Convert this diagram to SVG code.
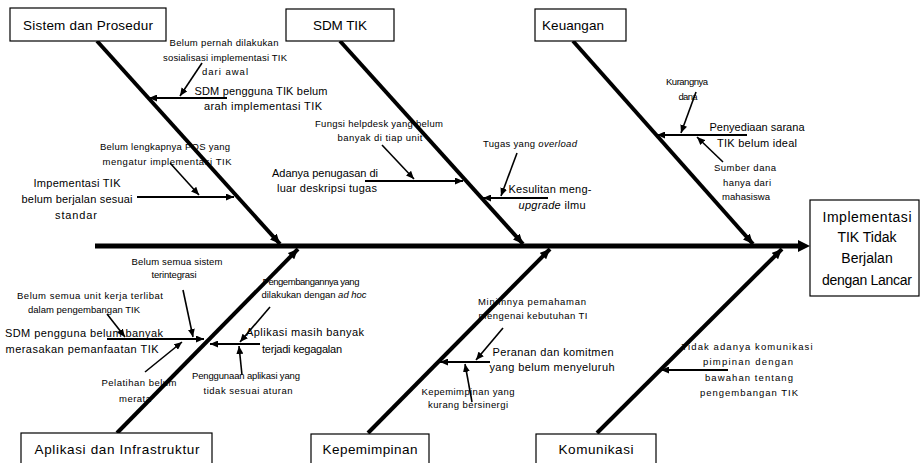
<svg xmlns="http://www.w3.org/2000/svg" width="920" height="463" viewBox="0 0 920 463">
  <defs>
    <marker id="ah" viewBox="0 0 8 7" refX="8" refY="3.5" markerWidth="8" markerHeight="7" markerUnits="userSpaceOnUse" orient="auto">
      <path d="M0,0 L8,3.5 L0,7 z" fill="#000"/>
    </marker>
    <marker id="ahb" viewBox="0 0 10 9" refX="10" refY="4.5" markerWidth="10" markerHeight="9" markerUnits="userSpaceOnUse" orient="auto">
      <path d="M0,0 L10,4.5 L0,9 z" fill="#000"/>
    </marker>
  </defs>
  <style>
    .box { fill: #fff; stroke: #000; stroke-width: 1.2; }
    text { font-family: "Liberation Sans", Arial, sans-serif; fill: #000; text-anchor: middle; }
    .lbl { font-size: 13.5px; }
    .eff { font-size: 14px; }
    .m { font-size: 11px; }
    .s { font-size: 9.5px; }
    .spine { stroke: #000; stroke-width: 5; fill: none; }
    .bone { stroke: #000; stroke-width: 4; fill: none; marker-end: url(#ahb); }
    .sub { stroke: #000; stroke-width: 2; fill: none; marker-end: url(#ah); }
    .cause { stroke: #000; stroke-width: 1.6; fill: none; marker-end: url(#ah); }
    .i { font-style: italic; }
  </style>

  <rect width="920" height="463" fill="#fff"/>

  <!-- connectors: spine, main bones and cause arrows -->
  <g id="connectors">
    <line class="spine" x1="95" y1="246" x2="801" y2="246"/>
    <polygon points="798,240 810,246 798,252" fill="#000"/>

    <line class="bone" x1="97" y1="41" x2="280" y2="244"/>
    <line class="bone" x1="340" y1="41" x2="523" y2="244"/>
    <line class="bone" x1="573" y1="41" x2="753" y2="244"/>
    <line class="bone" x1="117" y1="433" x2="298" y2="249"/>
    <line class="bone" x1="368" y1="433" x2="550" y2="249"/>
    <line class="bone" x1="597" y1="433" x2="782" y2="249"/>

    <!-- Sistem dan Prosedur -->
    <line class="sub" x1="227" y1="98" x2="149" y2="98"/>
    <line class="cause" x1="202" y1="63" x2="180" y2="96"/>
    <line class="sub" x1="137" y1="197" x2="234" y2="197"/>
    <line class="cause" x1="170" y1="163" x2="199" y2="195"/>

    <!-- SDM TIK -->
    <line class="sub" x1="365" y1="181" x2="463" y2="181"/>
    <line class="cause" x1="382" y1="145" x2="414" y2="179"/>
    <line class="sub" x1="548" y1="198" x2="483" y2="198"/>
    <line class="cause" x1="517" y1="153" x2="501" y2="196"/>

    <!-- Keuangan -->
    <line class="sub" x1="747" y1="135" x2="657" y2="135"/>
    <line class="cause" x1="696" y1="92" x2="681" y2="133"/>
    <line class="cause" x1="723" y1="162" x2="697" y2="137"/>

    <!-- Aplikasi dan Infrastruktur -->
    <line class="sub" x1="107" y1="339" x2="204" y2="339"/>
    <line class="cause" x1="107" y1="314" x2="125" y2="337"/>
    <line class="cause" x1="183" y1="290" x2="193" y2="337"/>
    <line class="cause" x1="145" y1="372" x2="182" y2="342"/>
    <line class="sub" x1="260" y1="344" x2="210" y2="344"/>
    <line class="cause" x1="270" y1="307" x2="240" y2="342"/>
    <line class="cause" x1="242" y1="375" x2="239" y2="346"/>

    <!-- Kepemimpinan -->
    <line class="sub" x1="490" y1="362" x2="440" y2="362"/>
    <line class="cause" x1="503" y1="328" x2="476" y2="360"/>
    <line class="cause" x1="472" y1="402" x2="465" y2="364"/>

    <!-- Komunikasi -->
    <line class="sub" x1="728" y1="370" x2="661" y2="370"/>
  </g>

  <!-- effect -->
  <g id="effect">
    <rect class="box" x="810" y="200" width="109" height="96"/>
    <text class="eff" x="867" y="222" textLength="89" lengthAdjust="spacing">Implementasi</text>
    <text class="eff" x="867" y="242">TIK Tidak</text>
    <text class="eff" x="867" y="263">Berjalan</text>
    <text class="eff" x="867" y="285" textLength="90" lengthAdjust="spacing">dengan Lancar</text>
  </g>

  <g id="sistem-prosedur">
    <rect class="box" x="10" y="8" width="156" height="33"/>
    <text class="lbl" x="88" y="30" textLength="130" lengthAdjust="spacing">Sistem dan Prosedur</text>
    <text class="s" x="224" y="46" textLength="109" lengthAdjust="spacing">Belum pernah dilakukan</text>
    <text class="s" x="225" y="61" textLength="124" lengthAdjust="spacing">sosialisasi implementasi TIK</text>
    <text class="s" x="225" y="75" textLength="46" lengthAdjust="spacing">dari awal</text>
    <text class="m" x="261" y="95" textLength="133" lengthAdjust="spacing">SDM pengguna TIK belum</text>
    <text class="m" x="263" y="110" textLength="118" lengthAdjust="spacing">arah implementasi TIK</text>
    <text class="s" x="165" y="150" textLength="130" lengthAdjust="spacing">Belum lengkapnya POS yang</text>
    <text class="s" x="167" y="165" textLength="129" lengthAdjust="spacing">mengatur implementasi TIK</text>
    <text class="m" x="77" y="187" textLength="87" lengthAdjust="spacing">Impementasi TIK</text>
    <text class="m" x="77" y="203" textLength="111" lengthAdjust="spacing">belum berjalan sesuai</text>
    <text class="m" x="76" y="219" textLength="42" lengthAdjust="spacing">standar</text>
  </g>

  <g id="sdm-tik">
    <rect class="box" x="286" y="9" width="108" height="32"/>
    <text class="lbl" x="340" y="30" textLength="54" lengthAdjust="spacing">SDM TIK</text>
    <text class="s" x="379" y="127" textLength="128" lengthAdjust="spacing">Fungsi helpdesk yang belum</text>
    <text class="s" x="380" y="141" textLength="85" lengthAdjust="spacing">banyak di tiap unit</text>
    <text class="m" x="325" y="177" textLength="106" lengthAdjust="spacing">Adanya penugasan di</text>
    <text class="m" x="327" y="192" textLength="100" lengthAdjust="spacing">luar deskripsi tugas</text>
    <text class="s" x="530" y="147" textLength="94" lengthAdjust="spacing">Tugas yang <tspan class="i">overload</tspan></text>
    <text class="m" x="550" y="193" textLength="83" lengthAdjust="spacing">Kesulitan meng-</text>
    <text class="m" x="552" y="209" textLength="67" lengthAdjust="spacing"><tspan class="i">upgrade</tspan> ilmu</text>
  </g>

  <g id="keuangan">
    <rect class="box" x="535" y="9" width="91" height="32"/>
    <text class="lbl" x="573" y="30" textLength="62" lengthAdjust="spacing">Keuangan</text>
    <text class="s" x="687" y="85" textLength="42" lengthAdjust="spacing">Kurangnya</text>
    <text class="s" x="688" y="100" textLength="19" lengthAdjust="spacing">dana</text>
    <text class="m" x="757" y="131" textLength="95" lengthAdjust="spacing">Penyediaan sarana</text>
    <text class="m" x="757" y="147" textLength="80" lengthAdjust="spacing">TIK belum ideal</text>
    <text class="s" x="745" y="171" textLength="62" lengthAdjust="spacing">Sumber dana</text>
    <text class="s" x="747" y="186" textLength="48" lengthAdjust="spacing">hanya dari</text>
    <text class="s" x="746" y="200" textLength="48" lengthAdjust="spacing">mahasiswa</text>
  </g>

  <g id="aplikasi-infrastruktur">
    <rect class="box" x="21" y="433" width="191" height="40"/>
    <text class="lbl" x="117" y="454" textLength="165" lengthAdjust="spacing">Aplikasi dan Infrastruktur</text>
    <text class="s" x="177" y="265" textLength="91" lengthAdjust="spacing">Belum semua sistem</text>
    <text class="s" x="174" y="278" textLength="45" lengthAdjust="spacing">terintegrasi</text>
    <text class="s" x="90" y="299" textLength="146" lengthAdjust="spacing">Belum semua unit kerja terlibat</text>
    <text class="s" x="84" y="313" textLength="112" lengthAdjust="spacing">dalam pengembangan TIK</text>
    <text class="m" x="84" y="337" textLength="158" lengthAdjust="spacing">SDM pengguna belum banyak</text>
    <text class="m" x="82" y="353" textLength="153" lengthAdjust="spacing">merasakan pemanfaatan TIK</text>
    <text class="s" x="139" y="386" textLength="75" lengthAdjust="spacing">Pelatihan belum</text>
    <text class="s" x="135" y="402" textLength="32" lengthAdjust="spacing">merata</text>
    <text class="s" x="311" y="285" textLength="97" lengthAdjust="spacing">Pengembangannya yang</text>
    <text class="s" x="314" y="298" textLength="105" lengthAdjust="spacing">dilakukan dengan <tspan class="i">ad hoc</tspan></text>
    <text class="m" x="305" y="336" textLength="118" lengthAdjust="spacing">Aplikasi masih banyak</text>
    <text class="m" x="302" y="353" textLength="80" lengthAdjust="spacing">terjadi kegagalan</text>
    <text class="s" x="246" y="379" textLength="108" lengthAdjust="spacing">Penggunaan aplikasi yang</text>
    <text class="s" x="248" y="394" textLength="89" lengthAdjust="spacing">tidak sesuai aturan</text>
  </g>

  <g id="kepemimpinan">
    <rect class="box" x="311" y="434" width="118" height="40"/>
    <text class="lbl" x="370" y="454" textLength="95" lengthAdjust="spacing">Kepemimpinan</text>
    <text class="s" x="532" y="305" textLength="108" lengthAdjust="spacing">Minimnya pemahaman</text>
    <text class="s" x="533" y="319" textLength="109" lengthAdjust="spacing">mengenai kebutuhan TI</text>
    <text class="m" x="553" y="356" textLength="121" lengthAdjust="spacing">Peranan dan komitmen</text>
    <text class="m" x="552" y="371" textLength="125" lengthAdjust="spacing">yang belum menyeluruh</text>
    <text class="s" x="468" y="395" textLength="93" lengthAdjust="spacing">Kepemimpinan yang</text>
    <text class="s" x="468" y="408" textLength="80" lengthAdjust="spacing">kurang bersinergi</text>
  </g>

  <g id="komunikasi">
    <rect class="box" x="536" y="434" width="120" height="40"/>
    <text class="lbl" x="596" y="454" textLength="75" lengthAdjust="spacing">Komunikasi</text>
    <text class="s" x="747" y="350" textLength="131" lengthAdjust="spacing">Tidak adanya komunikasi</text>
    <text class="s" x="748" y="365" textLength="90" lengthAdjust="spacing">pimpinan dengan</text>
    <text class="s" x="749" y="381" textLength="88" lengthAdjust="spacing">bawahan tentang</text>
    <text class="s" x="749" y="396" textLength="98" lengthAdjust="spacing">pengembangan TIK</text>
  </g>
</svg>
